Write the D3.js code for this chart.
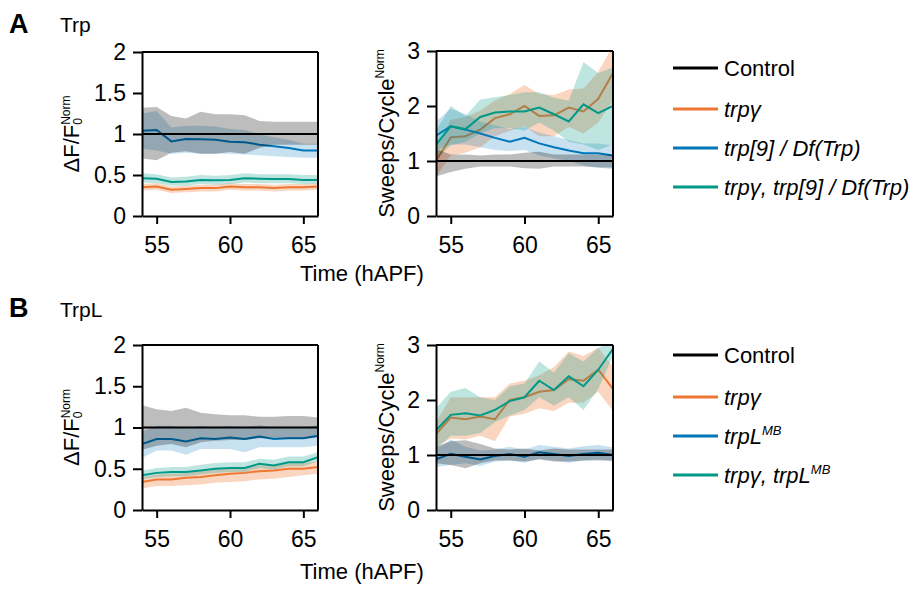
<!DOCTYPE html>
<html>
<head>
<meta charset="utf-8">
<script src="https://cdn.jsdelivr.net/npm/d3@7"></script>
<style>
  body { margin: 0; background: #fff; }
  svg text { font-family: "Liberation Sans", Arial, Helvetica, sans-serif; fill: #000; }
</style>
</head>
<body>
<div id="container"></div>
<script>
/* DATA */
const hours = [54, 55, 56, 57, 58, 59, 60, 61, 62, 63, 64, 65, 66];
const xTicks = [55, 60, 65];

// legend labels
const legendA = ["Control", "trpγ", "trp[9] / Df(Trp)", "trpγ, trp[9] / Df(Trp)"];
const legendB = ["Control", "trpγ", "trpL", "trpγ, trpL"];
const legendBSup = ["", "", "MB", "MB"];

// A, left: ΔF/F0 (Trp)
const aDffCtrl   = [1, 1, 1, 1, 1, 1, 1, 1, 1, 1, 1, 1, 1];
const aDffCtrlLo = [0.70, 0.68, 0.77, 0.79, 0.76, 0.76, 0.78, 0.76, 0.83, 0.87, 0.87, 0.87, 0.87];
const aDffCtrlHi = [1.32, 1.33, 1.22, 1.19, 1.27, 1.24, 1.24, 1.23, 1.16, 1.15, 1.15, 1.15, 1.15];
const aDffGam    = [0.35, 0.36, 0.32, 0.33, 0.34, 0.34, 0.36, 0.35, 0.35, 0.34, 0.35, 0.35, 0.36];
const aDffGamLo  = [0.31, 0.32, 0.28, 0.29, 0.30, 0.30, 0.32, 0.31, 0.31, 0.30, 0.31, 0.31, 0.32];
const aDffGamHi  = [0.39, 0.40, 0.36, 0.37, 0.38, 0.38, 0.40, 0.39, 0.39, 0.38, 0.39, 0.39, 0.40];
const aDffMut    = [1.04, 1.05, 0.91, 0.94, 0.935, 0.93, 0.905, 0.90, 0.87, 0.85, 0.83, 0.80, 0.80];
const aDffMutLo  = [0.82, 0.80, 0.76, 0.77, 0.76, 0.76, 0.76, 0.75, 0.74, 0.73, 0.72, 0.71, 0.71];
const aDffMutHi  = [1.25, 1.28, 1.08, 1.10, 1.10, 1.09, 1.06, 1.05, 1.00, 0.96, 0.93, 0.88, 0.88];
const aDffDbl    = [0.46, 0.455, 0.415, 0.42, 0.44, 0.435, 0.44, 0.46, 0.455, 0.45, 0.45, 0.44, 0.44];
const aDffDblLo  = [0.41, 0.40, 0.37, 0.37, 0.39, 0.38, 0.39, 0.41, 0.40, 0.40, 0.40, 0.39, 0.39];
const aDffDblHi  = [0.52, 0.51, 0.47, 0.48, 0.50, 0.49, 0.50, 0.52, 0.51, 0.51, 0.51, 0.50, 0.50];

// A, right: Sweeps/Cycle (Trp)
const aSwCtrl   = [1, 1, 1, 1, 1, 1, 1, 1, 1, 1, 1, 1, 1];
const aSwCtrlLo = [0.72, 0.80, 0.86, 0.90, 0.90, 0.90, 0.87, 0.86, 0.90, 0.90, 0.90, 0.88, 0.88];
const aSwCtrlHi = [1.22, 1.12, 1.12, 1.10, 1.12, 1.12, 1.15, 1.17, 1.12, 1.12, 1.12, 1.12, 1.12];
const aSwGam    = [1.00, 1.43, 1.45, 1.57, 1.78, 1.85, 2.00, 1.82, 1.83, 1.97, 1.90, 2.13, 2.60];
const aSwGamLo  = [0.72, 1.10, 1.15, 1.25, 1.45, 1.55, 1.63, 1.45, 1.45, 1.62, 1.50, 1.70, 2.10];
const aSwGamHi  = [1.25, 1.75, 1.80, 1.92, 2.10, 2.22, 2.38, 2.22, 2.20, 2.30, 2.32, 2.62, 3.10];
const aSwMut    = [1.46, 1.63, 1.57, 1.50, 1.42, 1.35, 1.42, 1.32, 1.25, 1.19, 1.14, 1.14, 1.10];
const aSwMutLo  = [1.20, 1.30, 1.30, 1.25, 1.20, 1.18, 1.20, 1.10, 1.05, 1.00, 0.92, 0.88, 0.85];
const aSwMutHi  = [1.72, 1.95, 1.85, 1.72, 1.65, 1.58, 1.62, 1.52, 1.45, 1.38, 1.32, 1.32, 1.28];
const aSwDbl    = [1.30, 1.63, 1.58, 1.80, 1.88, 1.90, 1.90, 1.97, 1.85, 1.72, 2.03, 1.87, 2.00];
const aSwDblLo  = [1.05, 1.28, 1.35, 1.50, 1.60, 1.60, 1.55, 1.70, 1.55, 1.35, 1.30, 1.20, 1.30];
const aSwDblHi  = [1.55, 2.00, 1.82, 2.12, 2.16, 2.20, 2.25, 2.25, 2.15, 2.10, 2.80, 2.60, 2.70];

// B, left: ΔF/F0 (TrpL)
const bDffCtrl   = [1, 1, 1, 1, 1, 1, 1, 1, 1, 1, 1, 1, 1];
const bDffCtrlLo = [0.73, 0.78, 0.80, 0.76, 0.82, 0.84, 0.85, 0.85, 0.87, 0.87, 0.86, 0.86, 0.88];
const bDffCtrlHi = [1.27, 1.22, 1.20, 1.24, 1.18, 1.16, 1.15, 1.15, 1.13, 1.13, 1.14, 1.14, 1.12];
const bDffGam    = [0.34, 0.37, 0.37, 0.39, 0.40, 0.42, 0.44, 0.45, 0.47, 0.48, 0.50, 0.50, 0.52];
const bDffGamLo  = [0.26, 0.29, 0.29, 0.30, 0.31, 0.33, 0.34, 0.35, 0.37, 0.38, 0.40, 0.42, 0.44];
const bDffGamHi  = [0.40, 0.43, 0.44, 0.45, 0.47, 0.49, 0.51, 0.52, 0.54, 0.55, 0.57, 0.57, 0.59];
const bDffMut    = [0.80, 0.86, 0.86, 0.83, 0.87, 0.86, 0.88, 0.86, 0.89, 0.86, 0.87, 0.87, 0.90];
const bDffMutLo  = [0.63, 0.72, 0.72, 0.67, 0.74, 0.74, 0.74, 0.70, 0.76, 0.76, 0.76, 0.76, 0.78];
const bDffMutHi  = [0.95, 1.02, 1.02, 0.99, 1.02, 1.00, 1.02, 1.00, 1.03, 1.00, 1.00, 1.00, 1.03];
const bDffDbl    = [0.42, 0.45, 0.46, 0.46, 0.48, 0.50, 0.51, 0.51, 0.56, 0.54, 0.58, 0.58, 0.64];
const bDffDblLo  = [0.37, 0.40, 0.41, 0.41, 0.43, 0.45, 0.46, 0.46, 0.51, 0.49, 0.53, 0.53, 0.59];
const bDffDblHi  = [0.48, 0.51, 0.52, 0.52, 0.55, 0.57, 0.58, 0.58, 0.62, 0.61, 0.65, 0.65, 0.70];

// B, right: Sweeps/Cycle (TrpL)
const bSwCtrl   = [1, 1, 1, 1, 1, 1, 1, 1, 1, 1, 1, 1, 1];
const bSwCtrlLo = [0.85, 0.82, 0.76, 0.85, 0.90, 0.90, 0.88, 0.92, 0.88, 0.88, 0.90, 0.90, 0.90];
const bSwCtrlHi = [1.15, 1.25, 1.27, 1.20, 1.12, 1.10, 1.12, 1.08, 1.12, 1.10, 1.10, 1.10, 1.10];
const bSwGam    = [1.38, 1.68, 1.65, 1.70, 1.65, 2.00, 2.05, 2.15, 2.18, 2.38, 2.35, 2.55, 2.20];
const bSwGamLo  = [1.15, 1.30, 1.28, 1.35, 1.25, 1.70, 1.75, 1.85, 1.80, 1.95, 1.95, 2.15, 1.80];
const bSwGamHi  = [1.60, 2.05, 2.05, 2.05, 2.05, 2.30, 2.35, 2.45, 2.60, 2.88, 2.80, 2.95, 2.60];
const bSwMut    = [0.92, 1.02, 0.97, 0.92, 0.98, 1.02, 0.97, 1.05, 1.02, 0.98, 1.02, 1.04, 1.00];
const bSwMutLo  = [0.78, 0.82, 0.85, 0.80, 0.88, 0.90, 0.86, 0.93, 0.90, 0.86, 0.90, 0.92, 0.88];
const bSwMutHi  = [1.10, 1.28, 1.15, 1.08, 1.10, 1.15, 1.10, 1.18, 1.15, 1.12, 1.16, 1.18, 1.14];
const bSwDbl    = [1.45, 1.73, 1.76, 1.72, 1.82, 1.98, 2.05, 2.35, 2.18, 2.43, 2.25, 2.55, 2.93];
const bSwDblLo  = [1.10, 1.35, 1.35, 1.40, 1.60, 1.72, 1.82, 2.05, 1.90, 2.05, 1.82, 2.20, 2.80];
const bSwDblHi  = [1.85, 2.15, 2.22, 2.05, 2.00, 2.25, 2.30, 2.70, 2.50, 2.85, 2.70, 2.95, 3.05];

/* CONSTANTS */
const width = 922, height = 591;
const colors = { ctrl: "#000000", gam: "#EE7733", mut: "#0077BB", dbl: "#009988" };
const bandOpacity = { ctrl: 0.26, gam: 0.3, mut: 0.22, dbl: 0.25 };
const FONT = 22;

const svg = d3.select("#container")
  .append("svg")
  .attr("width", width)
  .attr("height", height);

function makeSeries(key, mean, lo, hi) {
  return hours.map((h, i) => ({ key, h, v: mean[i], lo: lo[i], hi: hi[i] }));
}

let clipId = 0;
function drawPanel(opts) {
  const { x0, x1, y0, y1, yMax, yTicks, series, yLabel, labelX } = opts;

  const xScale = d3.scaleLinear().domain([54, 66]).range([x0, x1]);
  const yScale = d3.scaleLinear().domain([0, yMax]).range([y1, y0]);

  const g = svg.append("g");
  const id = "clip" + (clipId++);
  g.append("clipPath").attr("id", id)
    .append("rect").attr("x", x0).attr("y", y0).attr("width", x1 - x0).attr("height", y1 - y0);

  const plot = g.append("g").attr("clip-path", `url(#${id})`);

  const area = d3.area()
    .x(d => xScale(d.h))
    .y0(d => yScale(d.lo))
    .y1(d => yScale(d.hi));
  const line = d3.line()
    .x(d => xScale(d.h))
    .y(d => yScale(d.v));

  series.forEach(s => {
    const key = s[0].key;
    plot.append("path")
      .attr("d", area(s))
      .attr("fill", colors[key])
      .attr("fill-opacity", bandOpacity[key]);
    plot.append("path")
      .attr("d", line(s))
      .attr("fill", "none")
      .attr("stroke", colors[key])
      .attr("stroke-width", 2);
  });

  // box top / right
  g.append("line").attr("x1", x0).attr("x2", x1).attr("y1", y0).attr("y2", y0)
    .attr("stroke", "#000").attr("stroke-width", 2);
  g.append("line").attr("x1", x1).attr("x2", x1).attr("y1", y0).attr("y2", y1)
    .attr("stroke", "#000").attr("stroke-width", 2);

  // AXES
  const yAxis = g.append("g")
    .attr("transform", `translate(${x0},0)`)
    .call(d3.axisLeft(yScale).tickValues(yTicks).tickSize(9).tickSizeOuter(0).tickPadding(7)
      .tickFormat(d => String(d)));
  const xAxis = g.append("g")
    .attr("transform", `translate(0,${y1})`)
    .call(d3.axisBottom(xScale).tickValues(xTicks).tickSize(8).tickSizeOuter(0).tickPadding(13));

  [yAxis, xAxis].forEach(ax => {
    ax.select(".domain").attr("stroke-width", 2);
    ax.selectAll(".tick line").attr("stroke-width", 2);
    ax.selectAll("text").attr("font-size", 23).attr("font-family", "Liberation Sans, Arial, sans-serif").attr("fill", "#000");
  });

  // y label
  const cy = (y0 + y1) / 2;
  const t = g.append("text")
    .attr("transform", `translate(${labelX},${cy}) rotate(-90)`)
    .attr("text-anchor", "middle")
    .attr("font-size", FONT);
  if (yLabel === "dff") {
    t.append("tspan").text("ΔF/F");
    t.append("tspan").attr("font-size", 12).attr("dy", 3).text("0");
    t.append("tspan").attr("font-size", 12).attr("dx", -6.7).attr("dy", -12).text("Norm");
  } else {
    t.append("tspan").text("Sweeps/Cycle");
    t.append("tspan").attr("font-size", 12).attr("dy", -10).text("Norm");
  }
}

function drawLegend(x, ys, labels, sups) {
  const keys = ["ctrl", "gam", "mut", "dbl"];
  labels.forEach((lab, i) => {
    svg.append("line")
      .attr("x1", x).attr("x2", x + 45)
      .attr("y1", ys[i]).attr("y2", ys[i])
      .attr("stroke", colors[keys[i]]).attr("stroke-width", 3);
    const t = svg.append("text")
      .attr("x", x + 51).attr("y", ys[i] + 8)
      .attr("font-size", FONT)
      .attr("font-style", i === 0 ? "normal" : "italic");
    t.append("tspan").text(lab);
    if (sups && sups[i]) {
      t.append("tspan").attr("font-size", 13).attr("dy", -9).text(sups[i]);
    }
  });
}

/* PANEL A */
svg.append("text").attr("x", 9).attr("y", 33).attr("font-size", 27).attr("font-weight", "bold").text("A");
svg.append("text").attr("x", 60).attr("y", 32).attr("font-size", 21).text("Trp");

drawPanel({
  x0: 142, x1: 318, y0: 52, y1: 216, yMax: 2, yTicks: [0, 0.5, 1, 1.5, 2], yLabel: "dff", labelX: 79,
  series: [
    makeSeries("gam", aDffGam, aDffGamLo, aDffGamHi),
    makeSeries("mut", aDffMut, aDffMutLo, aDffMutHi),
    makeSeries("dbl", aDffDbl, aDffDblLo, aDffDblHi),
    makeSeries("ctrl", aDffCtrl, aDffCtrlLo, aDffCtrlHi)
  ]
});
drawPanel({
  x0: 436, x1: 613, y0: 51, y1: 216, yMax: 3, yTicks: [0, 1, 2, 3], yLabel: "sw", labelX: 394,
  series: [
    makeSeries("gam", aSwGam, aSwGamLo, aSwGamHi),
    makeSeries("mut", aSwMut, aSwMutLo, aSwMutHi),
    makeSeries("dbl", aSwDbl, aSwDblLo, aSwDblHi),
    makeSeries("ctrl", aSwCtrl, aSwCtrlLo, aSwCtrlHi)
  ]
});
svg.append("text").attr("x", 300).attr("y", 281).attr("font-size", FONT).text("Time (hAPF)");
drawLegend(673, [68, 109, 148, 187], legendA, null);

/* PANEL B */
svg.append("text").attr("x", 9).attr("y", 317).attr("font-size", 27).attr("font-weight", "bold").text("B");
svg.append("text").attr("x", 60).attr("y", 317).attr("font-size", 21).text("TrpL");

drawPanel({
  x0: 142, x1: 318, y0: 345, y1: 510, yMax: 2, yTicks: [0, 0.5, 1, 1.5, 2], yLabel: "dff", labelX: 79,
  series: [
    makeSeries("gam", bDffGam, bDffGamLo, bDffGamHi),
    makeSeries("mut", bDffMut, bDffMutLo, bDffMutHi),
    makeSeries("dbl", bDffDbl, bDffDblLo, bDffDblHi),
    makeSeries("ctrl", bDffCtrl, bDffCtrlLo, bDffCtrlHi)
  ]
});
drawPanel({
  x0: 436, x1: 613, y0: 345, y1: 510, yMax: 3, yTicks: [0, 1, 2, 3], yLabel: "sw", labelX: 394,
  series: [
    makeSeries("gam", bSwGam, bSwGamLo, bSwGamHi),
    makeSeries("mut", bSwMut, bSwMutLo, bSwMutHi),
    makeSeries("dbl", bSwDbl, bSwDblLo, bSwDblHi),
    makeSeries("ctrl", bSwCtrl, bSwCtrlLo, bSwCtrlHi)
  ]
});
svg.append("text").attr("x", 300).attr("y", 579).attr("font-size", FONT).text("Time (hAPF)");
drawLegend(673, [355, 397, 436, 475], legendB, legendBSup);
</script>
</body>
</html>
